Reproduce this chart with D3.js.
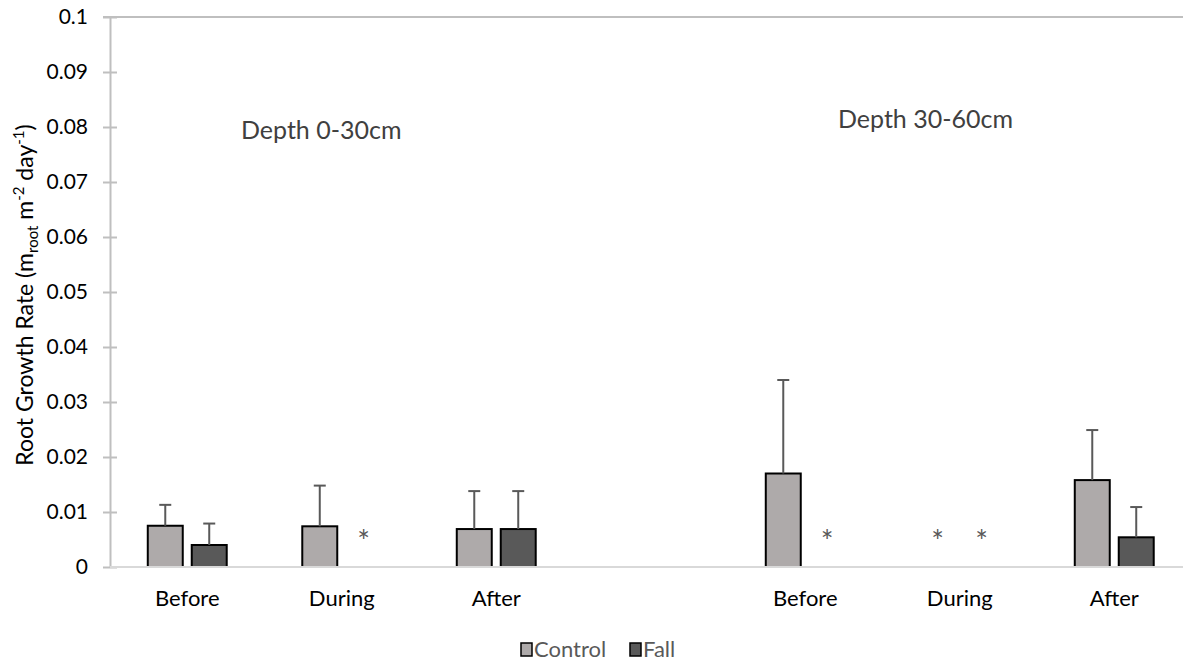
<!DOCTYPE html>
<html>
<head>
<meta charset="utf-8">
<script src="https://cdn.jsdelivr.net/npm/d3@7"></script>
<style>
  html, body { margin: 0; padding: 0; background: #fff; }
  svg { display: block; font-family: Lato, "Open Sans", sans-serif; }
</style>
</head>
<body>
<svg id="chart" width="1183" height="662"></svg>
<script>
// Period slots along the x axis; the blank slot separates the two depth groups
const periods = ["Before", "During", "After", "", "Before", "During", "After"];
const series = ["Control", "Fall"];

// Mean root growth rate (m_root m^-2 day^-1); null = spacer slot
const controlMean = [0.0075, 0.0074, 0.0069, null, 0.0170, 0, 0.0158];
const fallMean    = [0.0040, 0,      0.0069, null, 0,      0, 0.0054];
// Upper error bar length
const controlErr  = [0.0038, 0.0074, 0.0069, null, 0.0170, 0, 0.0091];
const fallErr     = [0.0039, 0,      0.0069, null, 0,      0, 0.0055];

const yTicks = [0, 0.01, 0.02, 0.03, 0.04, 0.05, 0.06, 0.07, 0.08, 0.09, 0.1];
const yTickLabels = ["0", "0.01", "0.02", "0.03", "0.04", "0.05", "0.06", "0.07", "0.08", "0.09", "0.1"];

const groupLabels = ["Depth 0-30cm", "Depth 30-60cm"];

const colors = { Control: "#aeaaaa", Fall: "#595959" };

const svg = d3.select("#chart");
const W = +svg.attr("width");

const x0 = d3.scaleBand()
  .domain(d3.range(periods.length))
  .range([110, 1191.5])
  .paddingInner(0.489)
  .paddingOuter(0.2445);

const x1 = d3.scaleBand()
  .domain(series)
  .range([0, x0.bandwidth()])
  .paddingInner(0.2045);

const y = d3.scaleLinear().domain([0, 0.1]).range([567, 17]);

// Top boundary line at the axis maximum
svg.append("line")
  .attr("x1", 103).attr("x2", W)
  .attr("y1", y(0.1)).attr("y2", y(0.1))
  .attr("stroke", "#bfbfbf").attr("stroke-width", 2);

// Y axis
const yAxis = svg.append("g")
  .attr("transform", "translate(110,0)")
  .call(d3.axisLeft(y)
    .tickValues(yTicks)
    .tickFormat((d, i) => yTickLabels[i])
    .tickSizeInner(7)
    .tickSizeOuter(0)
    .tickPadding(15));
yAxis.select(".domain").attr("stroke", "#bfbfbf").attr("stroke-width", 2);
yAxis.selectAll(".tick line").attr("stroke", "#bfbfbf").attr("stroke-width", 2).attr("x2", 7).attr("x1", -7);
yAxis.selectAll(".tick text")
  .attr("fill", "#000")
  .style("font-size", "21px")
  .style("font-family", "Lato, 'Open Sans', sans-serif");

// Rows of bar data
const rows = periods.map((p, i) => ({
  i,
  label: p,
  values: [
    { key: "Control", v: controlMean[i], e: controlErr[i] },
    { key: "Fall", v: fallMean[i], e: fallErr[i] }
  ]
}));

const groups = svg.append("g").selectAll("g")
  .data(rows.filter(r => r.values[0].v !== null))
  .join("g")
  .attr("transform", d => `translate(${x0(d.i)},0)`);

// Bars
groups.selectAll("rect")
  .data(d => d.values.filter(v => v.v > 0))
  .join("rect")
  .attr("x", d => x1(d.key))
  .attr("y", d => y(d.v))
  .attr("width", x1.bandwidth())
  .attr("height", d => y(0) - y(d.v))
  .attr("fill", d => colors[d.key])
  .attr("stroke", "#000")
  .attr("stroke-width", 2);

// Error bars (upper only)
const eb = groups.selectAll("g.err")
  .data(d => d.values.filter(v => v.v > 0 && v.e > 0))
  .join("g").attr("class", "err");
eb.append("line")
  .attr("x1", d => x1(d.key) + x1.bandwidth() / 2)
  .attr("x2", d => x1(d.key) + x1.bandwidth() / 2)
  .attr("y1", d => y(d.v))
  .attr("y2", d => y(d.v + d.e))
  .attr("stroke", "#595959").attr("stroke-width", 2);
eb.append("line")
  .attr("x1", d => x1(d.key) + x1.bandwidth() / 2 - 6)
  .attr("x2", d => x1(d.key) + x1.bandwidth() / 2 + 6)
  .attr("y1", d => y(d.v + d.e))
  .attr("y2", d => y(d.v + d.e))
  .attr("stroke", "#595959").attr("stroke-width", 2);

// Asterisks over zero values
groups.selectAll("text.star")
  .data(d => d.values.filter(v => v.v === 0))
  .join("text").attr("class", "star")
  .attr("x", d => x1(d.key) + x1.bandwidth() / 2)
  .attr("y", d => y(d.v) - 23)
  .attr("text-anchor", "middle")
  .attr("dominant-baseline", "middle")
  .attr("fill", "#595959")
  .style("font-size", "30px")
  .text("*");

// X axis baseline
svg.append("line")
  .attr("x1", 110).attr("x2", W)
  .attr("y1", y(0)).attr("y2", y(0))
  .attr("stroke", "#d9d9d9").attr("stroke-width", 2);

// Category labels
svg.append("g").selectAll("text")
  .data(rows.filter(r => r.label !== ""))
  .join("text")
  .attr("x", d => x0(d.i) + x0.bandwidth() / 2)
  .attr("y", 606)
  .attr("text-anchor", "middle")
  .attr("fill", "#000")
  .style("font-size", "22px")
  .text(d => d.label);

// Depth group titles
svg.append("text")
  .attr("x", 241).attr("y", 139)
  .attr("fill", "#404040")
  .style("font-size", "25px")
  .text(groupLabels[0]);
svg.append("text")
  .attr("x", 838).attr("y", 128)
  .attr("fill", "#404040")
  .style("font-size", "25px")
  .text(groupLabels[1]);

// Y axis title with sub/superscripts
const yt = svg.append("text")
  .attr("transform", `translate(33,${(y(0) + y(0.1)) / 2 + 3}) rotate(-90)`)
  .attr("text-anchor", "middle")
  .attr("fill", "#000")
  .style("font-size", "23px");
yt.append("tspan").text("Root Growth Rate (m");
yt.append("tspan").attr("dy", 5).style("font-size", "15px").text("root");
yt.append("tspan").attr("dy", -5).text(" m");
yt.append("tspan").attr("dy", -9).style("font-size", "15px").text("-2");
yt.append("tspan").attr("dy", 9).text(" day");
yt.append("tspan").attr("dy", -9).style("font-size", "15px").text("-1");
yt.append("tspan").attr("dy", 9).text(")");

// Legend
const legend = svg.append("g").attr("transform", "translate(520,643)");
const lx = [0, 109];
series.forEach((s, i) => {
  const g = legend.append("g").attr("transform", `translate(${lx[i]},0)`);
  g.append("rect")
    .attr("x", 1).attr("y", 0).attr("width", 11).attr("height", 13)
    .attr("fill", colors[s]).attr("stroke", "#000").attr("stroke-width", 1.5);
  g.append("text")
    .attr("x", 14).attr("y", 14)
    .attr("fill", "#595959")
    .style("font-size", "22px")
    .text(s);
});
</script>
</body>
</html>
